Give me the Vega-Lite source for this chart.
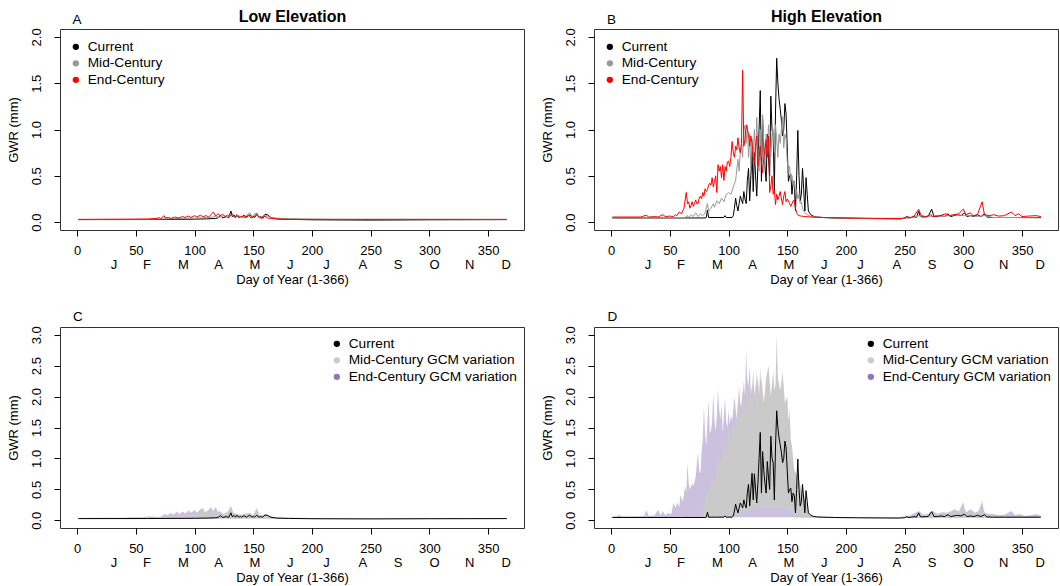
{
"$schema":"https://vega.github.io/schema/vega-lite/v6.json",
"padding":{"left":6,"top":7,"right":0,"bottom":0},
"config":{
 "font":"Liberation Sans",
 "view":{"stroke":"#333333","strokeWidth":1},
 "axis":{"labelFont":"Liberation Sans","titleFont":"Liberation Sans","labelFontSize":13,"titleFontSize":13,"titleFontWeight":"normal","labelColor":"#000000","titleColor":"#000000","tickColor":"#000000","grid":false},
 "legend":{"labelFont":"Liberation Sans","labelFontSize":13.7,"labelColor":"#000000","labelLimit":0}
},
"datasets":{
 "curLow":[{"d":1,"v":0.027},{"d":60,"v":0.028},{"d":100,"v":0.032},{"d":110,"v":0.035},{"d":118,"v":0.04},{"d":120,"v":0.045},{"d":122,"v":0.075},{"d":124,"v":0.045},{"d":127,"v":0.06},{"d":129,"v":0.045},{"d":131,"v":0.12},{"d":132,"v":0.06},{"d":134,"v":0.075},{"d":135,"v":0.05},{"d":136,"v":0.08},{"d":138,"v":0.05},{"d":139,"v":0.065},{"d":140,"v":0.05},{"d":142,"v":0.075},{"d":144,"v":0.05},{"d":145,"v":0.06},{"d":147,"v":0.08},{"d":149,"v":0.05},{"d":150,"v":0.065},{"d":151,"v":0.05},{"d":153,"v":0.08},{"d":155,"v":0.05},{"d":156,"v":0.06},{"d":158,"v":0.05},{"d":160,"v":0.085},{"d":162,"v":0.08},{"d":165,"v":0.05},{"d":170,"v":0.035},{"d":180,"v":0.03},{"d":200,"v":0.025},{"d":250,"v":0.022},{"d":300,"v":0.025},{"d":366,"v":0.027}],
 "midLow":[{"d":1,"v":0.028},{"d":60,"v":0.031},{"d":80,"v":0.037},{"d":100,"v":0.043},{"d":110,"v":0.05},{"d":116,"v":0.055},{"d":118,"v":0.065},{"d":121,"v":0.05},{"d":125,"v":0.07},{"d":128,"v":0.05},{"d":131,"v":0.08},{"d":134,"v":0.06},{"d":137,"v":0.075},{"d":140,"v":0.05},{"d":144,"v":0.07},{"d":147,"v":0.1},{"d":149,"v":0.06},{"d":152,"v":0.1},{"d":154,"v":0.06},{"d":156,"v":0.05},{"d":160,"v":0.075},{"d":163,"v":0.06},{"d":167,"v":0.045},{"d":175,"v":0.04},{"d":190,"v":0.035},{"d":220,"v":0.03},{"d":280,"v":0.03},{"d":366,"v":0.028}],
 "endLow":[{"d":1,"v":0.03},{"d":50,"v":0.032},{"d":60,"v":0.034},{"d":68,"v":0.04},{"d":70,"v":0.05},{"d":71,"v":0.035},{"d":74,"v":0.07},{"d":75,"v":0.045},{"d":78,"v":0.05},{"d":80,"v":0.04},{"d":83,"v":0.055},{"d":86,"v":0.045},{"d":90,"v":0.06},{"d":92,"v":0.05},{"d":95,"v":0.065},{"d":97,"v":0.05},{"d":100,"v":0.07},{"d":102,"v":0.055},{"d":105,"v":0.075},{"d":107,"v":0.06},{"d":110,"v":0.07},{"d":112,"v":0.055},{"d":114,"v":0.08},{"d":116,"v":0.11},{"d":118,"v":0.065},{"d":120,"v":0.09},{"d":122,"v":0.07},{"d":124,"v":0.085},{"d":126,"v":0.06},{"d":128,"v":0.075},{"d":130,"v":0.06},{"d":132,"v":0.09},{"d":134,"v":0.05},{"d":136,"v":0.07},{"d":138,"v":0.05},{"d":140,"v":0.065},{"d":143,"v":0.05},{"d":146,"v":0.075},{"d":148,"v":0.045},{"d":150,"v":0.05},{"d":153,"v":0.095},{"d":155,"v":0.05},{"d":158,"v":0.04},{"d":160,"v":0.065},{"d":162,"v":0.045},{"d":165,"v":0.04},{"d":170,"v":0.035},{"d":180,"v":0.03},{"d":366,"v":0.03}],
 "curHigh":[{"d":1,"v":0.045},{"d":30,"v":0.045},{"d":60,"v":0.045},{"d":80,"v":0.045},{"d":81,"v":0.05},{"d":82,"v":0.13},{"d":83,"v":0.05},{"d":90,"v":0.05},{"d":96,"v":0.05},{"d":97,"v":0.07},{"d":98,"v":0.05},{"d":103,"v":0.05},{"d":104,"v":0.07},{"d":105,"v":0.15},{"d":106,"v":0.26},{"d":107,"v":0.18},{"d":108,"v":0.12},{"d":109,"v":0.2},{"d":110,"v":0.28},{"d":111,"v":0.24},{"d":112,"v":0.2},{"d":113,"v":0.33},{"d":114,"v":0.25},{"d":115,"v":0.2},{"d":116,"v":0.45},{"d":117,"v":0.58},{"d":118,"v":0.23},{"d":119,"v":0.5},{"d":120,"v":0.76},{"d":121,"v":0.33},{"d":122,"v":0.75},{"d":123,"v":0.5},{"d":124,"v":0.28},{"d":125,"v":0.6},{"d":126,"v":1.0},{"d":127,"v":1.42},{"d":128,"v":0.44},{"d":129,"v":1.11},{"d":130,"v":0.8},{"d":131,"v":0.6},{"d":132,"v":0.44},{"d":133,"v":0.95},{"d":134,"v":0.7},{"d":135,"v":0.5},{"d":136,"v":1.36},{"d":137,"v":1.0},{"d":138,"v":0.93},{"d":139,"v":0.33},{"d":140,"v":1.2},{"d":141,"v":1.77},{"d":142,"v":1.5},{"d":143,"v":1.33},{"d":144,"v":1.22},{"d":145,"v":1.1},{"d":146,"v":0.93},{"d":147,"v":1.0},{"d":148,"v":1.28},{"d":149,"v":1.17},{"d":150,"v":0.8},{"d":151,"v":0.44},{"d":152,"v":0.5},{"d":153,"v":0.52},{"d":154,"v":0.3},{"d":155,"v":0.44},{"d":156,"v":0.4},{"d":157,"v":0.12},{"d":158,"v":0.5},{"d":159,"v":0.99},{"d":160,"v":0.5},{"d":161,"v":0.23},{"d":162,"v":0.3},{"d":163,"v":0.58},{"d":164,"v":0.35},{"d":165,"v":0.12},{"d":166,"v":0.48},{"d":167,"v":0.3},{"d":168,"v":0.12},{"d":169,"v":0.1},{"d":170,"v":0.08},{"d":172,"v":0.065},{"d":175,"v":0.055},{"d":180,"v":0.05},{"d":190,"v":0.045},{"d":210,"v":0.04},{"d":245,"v":0.035},{"d":250,"v":0.04},{"d":252,"v":0.06},{"d":253,"v":0.045},{"d":256,"v":0.05},{"d":258,"v":0.06},{"d":260,"v":0.05},{"d":262,"v":0.12},{"d":263,"v":0.07},{"d":264,"v":0.055},{"d":268,"v":0.06},{"d":270,"v":0.06},{"d":273,"v":0.14},{"d":275,"v":0.06},{"d":278,"v":0.06},{"d":281,"v":0.07},{"d":284,"v":0.06},{"d":287,"v":0.09},{"d":289,"v":0.06},{"d":292,"v":0.07},{"d":295,"v":0.08},{"d":298,"v":0.07},{"d":301,"v":0.1},{"d":303,"v":0.06},{"d":306,"v":0.07},{"d":309,"v":0.06},{"d":312,"v":0.08},{"d":315,"v":0.06},{"d":318,"v":0.09},{"d":320,"v":0.055},{"d":325,"v":0.05},{"d":335,"v":0.05},{"d":350,"v":0.05},{"d":366,"v":0.05}],
 "midHigh":[{"d":1,"v":0.045},{"d":30,"v":0.045},{"d":55,"v":0.05},{"d":63,"v":0.05},{"d":65,"v":0.07},{"d":66,"v":0.05},{"d":68,"v":0.08},{"d":70,"v":0.06},{"d":72,"v":0.1},{"d":74,"v":0.06},{"d":76,"v":0.09},{"d":78,"v":0.07},{"d":80,"v":0.1},{"d":82,"v":0.2},{"d":83,"v":0.12},{"d":85,"v":0.15},{"d":87,"v":0.2},{"d":88,"v":0.16},{"d":90,"v":0.23},{"d":92,"v":0.2},{"d":94,"v":0.26},{"d":96,"v":0.22},{"d":98,"v":0.3},{"d":100,"v":0.32},{"d":102,"v":0.3},{"d":104,"v":0.38},{"d":106,"v":0.45},{"d":108,"v":0.68},{"d":109,"v":0.55},{"d":110,"v":0.75},{"d":111,"v":0.84},{"d":112,"v":0.7},{"d":113,"v":1.05},{"d":114,"v":1.0},{"d":115,"v":0.85},{"d":116,"v":1.05},{"d":117,"v":0.7},{"d":118,"v":0.95},{"d":119,"v":0.6},{"d":120,"v":0.9},{"d":121,"v":0.75},{"d":122,"v":1.0},{"d":123,"v":0.65},{"d":124,"v":1.13},{"d":125,"v":0.8},{"d":126,"v":0.55},{"d":127,"v":1.0},{"d":128,"v":0.7},{"d":129,"v":1.16},{"d":130,"v":0.85},{"d":131,"v":0.6},{"d":132,"v":0.95},{"d":133,"v":0.75},{"d":134,"v":1.05},{"d":135,"v":0.8},{"d":136,"v":0.7},{"d":137,"v":0.95},{"d":138,"v":1.0},{"d":139,"v":0.75},{"d":140,"v":1.05},{"d":141,"v":0.9},{"d":142,"v":0.7},{"d":143,"v":0.95},{"d":144,"v":0.85},{"d":145,"v":1.0},{"d":146,"v":1.14},{"d":147,"v":0.8},{"d":148,"v":0.95},{"d":149,"v":0.9},{"d":150,"v":0.65},{"d":151,"v":0.55},{"d":152,"v":0.6},{"d":153,"v":0.45},{"d":154,"v":0.5},{"d":155,"v":0.4},{"d":156,"v":0.45},{"d":157,"v":0.3},{"d":158,"v":0.35},{"d":159,"v":0.25},{"d":160,"v":0.3},{"d":161,"v":0.2},{"d":162,"v":0.22},{"d":163,"v":0.15},{"d":164,"v":0.12},{"d":165,"v":0.1},{"d":167,"v":0.08},{"d":170,"v":0.06},{"d":175,"v":0.055},{"d":190,"v":0.045},{"d":220,"v":0.04},{"d":250,"v":0.04},{"d":258,"v":0.05},{"d":262,"v":0.07},{"d":266,"v":0.05},{"d":272,"v":0.06},{"d":276,"v":0.07},{"d":282,"v":0.06},{"d":288,"v":0.07},{"d":294,"v":0.08},{"d":300,"v":0.07},{"d":306,"v":0.07},{"d":312,"v":0.06},{"d":318,"v":0.07},{"d":325,"v":0.05},{"d":340,"v":0.05},{"d":366,"v":0.045}],
 "endHigh":[{"d":1,"v":0.055},{"d":25,"v":0.055},{"d":30,"v":0.075},{"d":32,"v":0.055},{"d":37,"v":0.06},{"d":40,"v":0.055},{"d":44,"v":0.08},{"d":46,"v":0.06},{"d":50,"v":0.065},{"d":53,"v":0.06},{"d":55,"v":0.08},{"d":56,"v":0.07},{"d":58,"v":0.11},{"d":60,"v":0.09},{"d":62,"v":0.15},{"d":64,"v":0.32},{"d":65,"v":0.2},{"d":66,"v":0.22},{"d":67,"v":0.15},{"d":68,"v":0.18},{"d":69,"v":0.22},{"d":70,"v":0.17},{"d":71,"v":0.2},{"d":72,"v":0.24},{"d":73,"v":0.2},{"d":74,"v":0.2},{"d":75,"v":0.26},{"d":76,"v":0.28},{"d":77,"v":0.25},{"d":78,"v":0.32},{"d":79,"v":0.28},{"d":80,"v":0.36},{"d":81,"v":0.33},{"d":82,"v":0.35},{"d":83,"v":0.4},{"d":84,"v":0.42},{"d":85,"v":0.4},{"d":86,"v":0.48},{"d":87,"v":0.38},{"d":88,"v":0.44},{"d":89,"v":0.5},{"d":90,"v":0.32},{"d":91,"v":0.62},{"d":92,"v":0.55},{"d":93,"v":0.6},{"d":94,"v":0.48},{"d":95,"v":0.62},{"d":96,"v":0.45},{"d":97,"v":0.6},{"d":98,"v":0.55},{"d":99,"v":0.65},{"d":100,"v":0.66},{"d":101,"v":0.6},{"d":102,"v":0.7},{"d":103,"v":0.87},{"d":104,"v":0.75},{"d":105,"v":0.7},{"d":106,"v":0.82},{"d":107,"v":0.78},{"d":108,"v":0.91},{"d":109,"v":0.8},{"d":110,"v":0.75},{"d":111,"v":0.85},{"d":112,"v":1.64},{"d":113,"v":0.82},{"d":114,"v":0.9},{"d":115,"v":1.05},{"d":116,"v":1.0},{"d":117,"v":0.95},{"d":118,"v":0.82},{"d":119,"v":0.93},{"d":120,"v":0.85},{"d":121,"v":0.7},{"d":122,"v":0.64},{"d":123,"v":0.82},{"d":124,"v":0.93},{"d":125,"v":0.6},{"d":126,"v":0.7},{"d":127,"v":0.82},{"d":128,"v":0.65},{"d":129,"v":0.53},{"d":130,"v":0.7},{"d":131,"v":0.78},{"d":132,"v":0.89},{"d":133,"v":0.7},{"d":134,"v":0.93},{"d":135,"v":0.32},{"d":136,"v":0.39},{"d":137,"v":0.5},{"d":138,"v":0.3},{"d":139,"v":0.35},{"d":140,"v":0.19},{"d":141,"v":0.3},{"d":142,"v":0.24},{"d":143,"v":0.28},{"d":144,"v":0.33},{"d":145,"v":0.25},{"d":146,"v":0.19},{"d":147,"v":0.28},{"d":148,"v":0.33},{"d":149,"v":0.22},{"d":150,"v":0.25},{"d":151,"v":0.23},{"d":152,"v":0.2},{"d":153,"v":0.17},{"d":154,"v":0.2},{"d":155,"v":0.23},{"d":156,"v":0.24},{"d":157,"v":0.15},{"d":158,"v":0.1},{"d":159,"v":0.08},{"d":160,"v":0.07},{"d":162,"v":0.065},{"d":165,"v":0.06},{"d":170,"v":0.055},{"d":180,"v":0.05},{"d":200,"v":0.045},{"d":230,"v":0.04},{"d":248,"v":0.04},{"d":252,"v":0.06},{"d":255,"v":0.05},{"d":258,"v":0.065},{"d":262,"v":0.14},{"d":264,"v":0.07},{"d":268,"v":0.06},{"d":272,"v":0.08},{"d":274,"v":0.06},{"d":280,"v":0.07},{"d":285,"v":0.09},{"d":288,"v":0.07},{"d":292,"v":0.08},{"d":296,"v":0.09},{"d":300,"v":0.14},{"d":302,"v":0.08},{"d":306,"v":0.1},{"d":308,"v":0.07},{"d":312,"v":0.08},{"d":316,"v":0.22},{"d":318,"v":0.08},{"d":322,"v":0.07},{"d":326,"v":0.08},{"d":330,"v":0.065},{"d":335,"v":0.07},{"d":341,"v":0.11},{"d":344,"v":0.07},{"d":347,"v":0.09},{"d":350,"v":0.06},{"d":355,"v":0.065},{"d":362,"v":0.07},{"d":366,"v":0.06}],
 "endLowBand":[{"d":1,"lo":0.026,"hi":0.035},{"d":15,"lo":0.026,"hi":0.04},{"d":40,"lo":0.026,"hi":0.04},{"d":45,"lo":0.026,"hi":0.05},{"d":55,"lo":0.027,"hi":0.05},{"d":60,"lo":0.027,"hi":0.06},{"d":65,"lo":0.027,"hi":0.06},{"d":70,"lo":0.028,"hi":0.05},{"d":75,"lo":0.028,"hi":0.1},{"d":77,"lo":0.028,"hi":0.08},{"d":80,"lo":0.028,"hi":0.12},{"d":82,"lo":0.028,"hi":0.09},{"d":85,"lo":0.028,"hi":0.14},{"d":87,"lo":0.028,"hi":0.1},{"d":90,"lo":0.028,"hi":0.14},{"d":92,"lo":0.028,"hi":0.11},{"d":95,"lo":0.028,"hi":0.16},{"d":97,"lo":0.028,"hi":0.12},{"d":100,"lo":0.028,"hi":0.17},{"d":102,"lo":0.028,"hi":0.12},{"d":105,"lo":0.028,"hi":0.18},{"d":107,"lo":0.028,"hi":0.2},{"d":109,"lo":0.028,"hi":0.12},{"d":112,"lo":0.028,"hi":0.17},{"d":114,"lo":0.028,"hi":0.21},{"d":116,"lo":0.028,"hi":0.14},{"d":118,"lo":0.028,"hi":0.22},{"d":120,"lo":0.028,"hi":0.12},{"d":123,"lo":0.028,"hi":0.1},{"d":126,"lo":0.028,"hi":0.08},{"d":130,"lo":0.028,"hi":0.07},{"d":135,"lo":0.028,"hi":0.06},{"d":140,"lo":0.028,"hi":0.06},{"d":150,"lo":0.028,"hi":0.05},{"d":160,"lo":0.028,"hi":0.05},{"d":170,"lo":0.026,"hi":0.04},{"d":200,"lo":0.024,"hi":0.035},{"d":366,"lo":0.026,"hi":0.035}],
 "midLowBand":[{"d":1,"lo":0.026,"hi":0.035},{"d":60,"lo":0.027,"hi":0.04},{"d":80,"lo":0.028,"hi":0.05},{"d":95,"lo":0.028,"hi":0.08},{"d":100,"lo":0.028,"hi":0.1},{"d":105,"lo":0.028,"hi":0.12},{"d":110,"lo":0.028,"hi":0.14},{"d":113,"lo":0.028,"hi":0.1},{"d":116,"lo":0.028,"hi":0.16},{"d":118,"lo":0.028,"hi":0.12},{"d":121,"lo":0.028,"hi":0.15},{"d":125,"lo":0.028,"hi":0.1},{"d":128,"lo":0.028,"hi":0.13},{"d":131,"lo":0.028,"hi":0.24},{"d":133,"lo":0.028,"hi":0.12},{"d":136,"lo":0.028,"hi":0.1},{"d":140,"lo":0.028,"hi":0.09},{"d":144,"lo":0.028,"hi":0.11},{"d":147,"lo":0.028,"hi":0.12},{"d":150,"lo":0.028,"hi":0.08},{"d":153,"lo":0.028,"hi":0.2},{"d":155,"lo":0.028,"hi":0.09},{"d":158,"lo":0.028,"hi":0.08},{"d":161,"lo":0.028,"hi":0.1},{"d":164,"lo":0.028,"hi":0.07},{"d":168,"lo":0.027,"hi":0.05},{"d":175,"lo":0.026,"hi":0.04},{"d":200,"lo":0.024,"hi":0.035},{"d":366,"lo":0.026,"hi":0.035}],
 "endHighBand":[{"d":1,"lo":0.04,"hi":0.06},{"d":5,"lo":0.04,"hi":0.07},{"d":7,"lo":0.04,"hi":0.09},{"d":9,"lo":0.04,"hi":0.065},{"d":20,"lo":0.04,"hi":0.065},{"d":28,"lo":0.04,"hi":0.07},{"d":30,"lo":0.04,"hi":0.16},{"d":32,"lo":0.04,"hi":0.07},{"d":37,"lo":0.04,"hi":0.08},{"d":40,"lo":0.04,"hi":0.17},{"d":42,"lo":0.04,"hi":0.08},{"d":44,"lo":0.04,"hi":0.15},{"d":46,"lo":0.04,"hi":0.08},{"d":49,"lo":0.04,"hi":0.12},{"d":51,"lo":0.04,"hi":0.09},{"d":53,"lo":0.045,"hi":0.28},{"d":55,"lo":0.045,"hi":0.2},{"d":56,"lo":0.045,"hi":0.29},{"d":58,"lo":0.045,"hi":0.22},{"d":59,"lo":0.045,"hi":0.41},{"d":61,"lo":0.05,"hi":0.3},{"d":63,"lo":0.05,"hi":0.55},{"d":64,"lo":0.05,"hi":0.45},{"d":65,"lo":0.05,"hi":0.93},{"d":66,"lo":0.05,"hi":0.6},{"d":67,"lo":0.05,"hi":0.5},{"d":69,"lo":0.05,"hi":0.6},{"d":70,"lo":0.05,"hi":0.55},{"d":72,"lo":0.05,"hi":0.7},{"d":73,"lo":0.05,"hi":0.93},{"d":74,"lo":0.05,"hi":1.09},{"d":75,"lo":0.05,"hi":0.8},{"d":76,"lo":0.05,"hi":0.76},{"d":77,"lo":0.05,"hi":1.11},{"d":78,"lo":0.05,"hi":1.3},{"d":79,"lo":0.05,"hi":1.84},{"d":80,"lo":0.05,"hi":1.4},{"d":81,"lo":0.05,"hi":1.2},{"d":82,"lo":0.05,"hi":1.6},{"d":83,"lo":0.05,"hi":1.95},{"d":84,"lo":0.05,"hi":1.4},{"d":85,"lo":0.05,"hi":1.45},{"d":86,"lo":0.05,"hi":1.6},{"d":87,"lo":0.05,"hi":2.06},{"d":88,"lo":0.05,"hi":1.6},{"d":89,"lo":0.05,"hi":1.44},{"d":90,"lo":0.05,"hi":1.7},{"d":91,"lo":0.05,"hi":2.12},{"d":92,"lo":0.05,"hi":1.8},{"d":93,"lo":0.05,"hi":1.63},{"d":94,"lo":0.05,"hi":1.87},{"d":95,"lo":0.05,"hi":1.41},{"d":96,"lo":0.05,"hi":1.7},{"d":97,"lo":0.05,"hi":1.98},{"d":98,"lo":0.05,"hi":1.6},{"d":99,"lo":0.05,"hi":1.5},{"d":100,"lo":0.05,"hi":1.79},{"d":101,"lo":0.05,"hi":1.55},{"d":102,"lo":0.05,"hi":1.71},{"d":103,"lo":0.05,"hi":1.6},{"d":104,"lo":0.05,"hi":1.78},{"d":105,"lo":0.05,"hi":2.0},{"d":106,"lo":0.05,"hi":1.8},{"d":107,"lo":0.05,"hi":1.63},{"d":108,"lo":0.05,"hi":1.9},{"d":109,"lo":0.05,"hi":2.16},{"d":110,"lo":0.05,"hi":1.9},{"d":111,"lo":0.05,"hi":1.8},{"d":112,"lo":0.05,"hi":2.0},{"d":113,"lo":0.05,"hi":2.27},{"d":114,"lo":0.05,"hi":2.0},{"d":115,"lo":0.05,"hi":2.78},{"d":116,"lo":0.05,"hi":2.1},{"d":117,"lo":0.05,"hi":2.2},{"d":118,"lo":0.05,"hi":2.49},{"d":119,"lo":0.05,"hi":2.0},{"d":120,"lo":0.05,"hi":2.1},{"d":121,"lo":0.05,"hi":2.43},{"d":122,"lo":0.05,"hi":2.0},{"d":123,"lo":0.05,"hi":2.2},{"d":124,"lo":0.05,"hi":1.9},{"d":125,"lo":0.05,"hi":2.3},{"d":126,"lo":0.05,"hi":2.0},{"d":127,"lo":0.05,"hi":2.49},{"d":128,"lo":0.05,"hi":2.0},{"d":129,"lo":0.05,"hi":1.8},{"d":130,"lo":0.05,"hi":1.7},{"d":132,"lo":0.05,"hi":1.6},{"d":134,"lo":0.05,"hi":1.5},{"d":136,"lo":0.05,"hi":1.4},{"d":138,"lo":0.05,"hi":1.2},{"d":140,"lo":0.05,"hi":1.1},{"d":142,"lo":0.05,"hi":0.9},{"d":145,"lo":0.05,"hi":0.8},{"d":150,"lo":0.05,"hi":0.6},{"d":155,"lo":0.05,"hi":0.4},{"d":160,"lo":0.045,"hi":0.2},{"d":165,"lo":0.04,"hi":0.12},{"d":170,"lo":0.04,"hi":0.07},{"d":175,"lo":0.04,"hi":0.06},{"d":200,"lo":0.035,"hi":0.05},{"d":240,"lo":0.035,"hi":0.05},{"d":250,"lo":0.04,"hi":0.06},{"d":255,"lo":0.04,"hi":0.08},{"d":262,"lo":0.04,"hi":0.15},{"d":265,"lo":0.04,"hi":0.09},{"d":270,"lo":0.04,"hi":0.1},{"d":274,"lo":0.04,"hi":0.15},{"d":278,"lo":0.04,"hi":0.1},{"d":282,"lo":0.04,"hi":0.13},{"d":286,"lo":0.04,"hi":0.12},{"d":290,"lo":0.04,"hi":0.15},{"d":293,"lo":0.04,"hi":0.18},{"d":296,"lo":0.04,"hi":0.14},{"d":300,"lo":0.04,"hi":0.29},{"d":302,"lo":0.04,"hi":0.12},{"d":306,"lo":0.04,"hi":0.18},{"d":310,"lo":0.04,"hi":0.12},{"d":313,"lo":0.04,"hi":0.15},{"d":316,"lo":0.04,"hi":0.31},{"d":318,"lo":0.04,"hi":0.12},{"d":322,"lo":0.04,"hi":0.1},{"d":326,"lo":0.04,"hi":0.1},{"d":330,"lo":0.04,"hi":0.08},{"d":335,"lo":0.04,"hi":0.09},{"d":341,"lo":0.04,"hi":0.15},{"d":344,"lo":0.04,"hi":0.08},{"d":348,"lo":0.04,"hi":0.1},{"d":352,"lo":0.04,"hi":0.07},{"d":358,"lo":0.04,"hi":0.08},{"d":362,"lo":0.04,"hi":0.1},{"d":366,"lo":0.04,"hi":0.07}],
 "midHighBand":[{"d":1,"lo":0.04,"hi":0.05},{"d":60,"lo":0.04,"hi":0.05},{"d":75,"lo":0.04,"hi":0.06},{"d":78,"lo":0.045,"hi":0.15},{"d":80,"lo":0.045,"hi":0.3},{"d":82,"lo":0.05,"hi":0.5},{"d":84,"lo":0.05,"hi":0.45},{"d":86,"lo":0.05,"hi":0.7},{"d":88,"lo":0.05,"hi":0.6},{"d":90,"lo":0.05,"hi":0.9},{"d":92,"lo":0.06,"hi":1.1},{"d":94,"lo":0.06,"hi":0.9},{"d":96,"lo":0.06,"hi":1.3},{"d":98,"lo":0.07,"hi":1.1},{"d":100,"lo":0.07,"hi":1.5},{"d":102,"lo":0.08,"hi":1.3},{"d":104,"lo":0.08,"hi":1.6},{"d":106,"lo":0.1,"hi":1.4},{"d":108,"lo":0.1,"hi":1.9},{"d":110,"lo":0.12,"hi":1.7},{"d":112,"lo":0.13,"hi":2.1},{"d":114,"lo":0.15,"hi":1.8},{"d":116,"lo":0.15,"hi":2.3},{"d":118,"lo":0.17,"hi":1.9},{"d":120,"lo":0.18,"hi":2.2},{"d":122,"lo":0.18,"hi":1.8},{"d":124,"lo":0.2,"hi":2.4},{"d":126,"lo":0.2,"hi":2.0},{"d":128,"lo":0.2,"hi":2.3},{"d":130,"lo":0.2,"hi":1.9},{"d":132,"lo":0.2,"hi":2.3},{"d":134,"lo":0.2,"hi":2.5},{"d":136,"lo":0.2,"hi":2.0},{"d":138,"lo":0.2,"hi":2.4},{"d":139,"lo":0.2,"hi":2.1},{"d":140,"lo":0.2,"hi":2.2},{"d":141,"lo":0.2,"hi":3.0},{"d":142,"lo":0.2,"hi":2.3},{"d":144,"lo":0.2,"hi":2.1},{"d":146,"lo":0.2,"hi":2.4},{"d":148,"lo":0.18,"hi":1.9},{"d":150,"lo":0.17,"hi":2.0},{"d":151,"lo":0.15,"hi":1.6},{"d":152,"lo":0.15,"hi":1.8},{"d":153,"lo":0.14,"hi":1.3},{"d":154,"lo":0.13,"hi":1.2},{"d":155,"lo":0.12,"hi":1.0},{"d":156,"lo":0.1,"hi":0.8},{"d":158,"lo":0.09,"hi":0.75},{"d":160,"lo":0.08,"hi":0.65},{"d":162,"lo":0.07,"hi":0.5},{"d":164,"lo":0.06,"hi":0.4},{"d":166,"lo":0.05,"hi":0.3},{"d":168,"lo":0.05,"hi":0.15},{"d":170,"lo":0.045,"hi":0.08},{"d":173,"lo":0.04,"hi":0.05},{"d":200,"lo":0.035,"hi":0.045},{"d":250,"lo":0.035,"hi":0.05},{"d":260,"lo":0.04,"hi":0.08},{"d":263,"lo":0.04,"hi":0.14},{"d":266,"lo":0.04,"hi":0.08},{"d":272,"lo":0.04,"hi":0.1},{"d":275,"lo":0.04,"hi":0.13},{"d":280,"lo":0.04,"hi":0.09},{"d":288,"lo":0.04,"hi":0.12},{"d":292,"lo":0.04,"hi":0.15},{"d":296,"lo":0.04,"hi":0.12},{"d":300,"lo":0.04,"hi":0.2},{"d":303,"lo":0.04,"hi":0.12},{"d":308,"lo":0.04,"hi":0.13},{"d":312,"lo":0.04,"hi":0.11},{"d":316,"lo":0.04,"hi":0.18},{"d":320,"lo":0.04,"hi":0.09},{"d":330,"lo":0.04,"hi":0.06},{"d":366,"lo":0.04,"hi":0.05}]
},
"columns":2,
"spacing":{"row":97,"column":70},
"bounds":"flush",
"resolve":{"scale":{"color":"independent"},"legend":{"color":"independent"}},
"concat":[
 {"width":464,"height":201,
  "layer":[
   {"data":{"name":"curLow"},"mark":{"type":"line","strokeWidth":1},
    "encoding":{
     "x":{"field":"d","type":"quantitative","scale":{"domain":[-14.64,380.64],"nice":false,"zero":false},
      "axis":{"orient":"bottom","values":[0,50,100,150,200,250,300,350,31,59,90,120,151,181,212,243,273,304,334,365],"labelExpr":"datum.value % 50 === 0 ? datum.label : ['', ['J','F','M','A','M','J','J','A','S','O','N','D'][indexof([31,59,90,120,151,181,212,243,273,304,334,365], datum.value)]]","labelLineHeight":14,"tickOpacity":{"condition":{"test":"datum.value % 50 === 0","value":1},"value":0},"labelPadding":8,"labelOverlap":false,"labelFlush":false,"labelBound":false,"tickSize":6,"domain":false,"title":"Day of Year (1-366)","titlePadding":2}},
     "y":{"field":"v","type":"quantitative","scale":{"domain":[-0.085,2.085],"nice":false,"zero":false},
      "axis":{"values":[0,0.5,1,1.5,2],"format":".1f","labelAngle":270,"labelAlign":"center","labelBaseline":"bottom","labelPadding":10.5,"labelOverlap":false,"labelFlush":false,"tickSize":6,"domain":false,"title":"GWR (mm)","titlePadding":10}},
     "color":{"datum":"Current","type":"nominal","scale":{"domain":["Current","Mid-Century","End-Century"],"range":["#000000","#999999","#ff0000"]},
      "legend":{"title":null,"orient":"none","legendX":9,"legendY":11,"symbolType":"circle","symbolSize":40,"symbolStrokeWidth":0,"symbolOpacity":1,"labelOffset":5,"rowPadding":1.5,"padding":0,"encode":{"symbols":{"update":{"fill":{"signal":"datum.value === 'Current' ? '#000000' : datum.value === 'Mid-Century' ? '#999999' : '#ff0000'"},"strokeWidth":{"value":0},"opacity":{"value":1}}}}}}
    }},
   {"data":{"name":"midLow"},"mark":{"type":"line","strokeWidth":1},
    "encoding":{
     "x":{"field":"d","type":"quantitative","scale":{"domain":[-14.64,380.64],"nice":false,"zero":false},
      "axis":{"orient":"top","labels":false,"ticks":false,"domain":false,"title":"Low Elevation","titleFontWeight":"bold","titleFontSize":16,"titleX":232,"titleY":-8,"titleAlign":"center","titleBaseline":"alphabetic"}},
     "y":{"field":"v","type":"quantitative","scale":{"domain":[-0.085,2.085],"nice":false,"zero":false},
      "axis":{"values":[0,0.5,1,1.5,2],"format":".1f","labelAngle":270,"labelAlign":"center","labelBaseline":"bottom","labelPadding":10.5,"labelOverlap":false,"labelFlush":false,"tickSize":6,"domain":false,"title":"GWR (mm)","titlePadding":10}},
     "color":{"datum":"Mid-Century","type":"nominal"}
    }},
   {"data":{"name":"endLow"},"mark":{"type":"line","strokeWidth":1},
    "encoding":{
     "x":{"field":"d","type":"quantitative","scale":{"domain":[-14.64,380.64],"nice":false,"zero":false},
      "axis":{"orient":"top","labels":false,"ticks":false,"domain":false,"title":"A","titleFontSize":13.5,"titleX":12,"titleY":-6,"titleAlign":"left","titleBaseline":"alphabetic"}},
     "y":{"field":"v","type":"quantitative","scale":{"domain":[-0.085,2.085],"nice":false,"zero":false},
      "axis":{"values":[0,0.5,1,1.5,2],"format":".1f","labelAngle":270,"labelAlign":"center","labelBaseline":"bottom","labelPadding":10.5,"labelOverlap":false,"labelFlush":false,"tickSize":6,"domain":false,"title":"GWR (mm)","titlePadding":10}},
     "color":{"datum":"End-Century","type":"nominal"}
    }}
  ],
  "resolve":{"axis":{"x":"independent"}}
 },
 {"width":464,"height":201,
  "layer":[
   {"data":{"name":"curHigh"},"mark":{"type":"line","strokeWidth":1},
    "encoding":{
     "x":{"field":"d","type":"quantitative","scale":{"domain":[-14.64,380.64],"nice":false,"zero":false},
      "axis":{"orient":"bottom","values":[0,50,100,150,200,250,300,350,31,59,90,120,151,181,212,243,273,304,334,365],"labelExpr":"datum.value % 50 === 0 ? datum.label : ['', ['J','F','M','A','M','J','J','A','S','O','N','D'][indexof([31,59,90,120,151,181,212,243,273,304,334,365], datum.value)]]","labelLineHeight":14,"tickOpacity":{"condition":{"test":"datum.value % 50 === 0","value":1},"value":0},"labelPadding":8,"labelOverlap":false,"labelFlush":false,"labelBound":false,"tickSize":6,"domain":false,"title":"Day of Year (1-366)","titlePadding":2}},
     "y":{"field":"v","type":"quantitative","scale":{"domain":[-0.085,2.085],"nice":false,"zero":false},
      "axis":{"values":[0,0.5,1,1.5,2],"format":".1f","labelAngle":270,"labelAlign":"center","labelBaseline":"bottom","labelPadding":10.5,"labelOverlap":false,"labelFlush":false,"tickSize":6,"domain":false,"title":"GWR (mm)","titlePadding":10}},
     "color":{"datum":"Current","type":"nominal","scale":{"domain":["Current","Mid-Century","End-Century"],"range":["#000000","#999999","#ff0000"]},
      "legend":{"title":null,"orient":"none","legendX":9,"legendY":11,"symbolType":"circle","symbolSize":40,"symbolStrokeWidth":0,"symbolOpacity":1,"labelOffset":5,"rowPadding":1.5,"padding":0,"encode":{"symbols":{"update":{"fill":{"signal":"datum.value === 'Current' ? '#000000' : datum.value === 'Mid-Century' ? '#999999' : '#ff0000'"},"strokeWidth":{"value":0},"opacity":{"value":1}}}}}}
    }},
   {"data":{"name":"midHigh"},"mark":{"type":"line","strokeWidth":1},
    "encoding":{
     "x":{"field":"d","type":"quantitative","scale":{"domain":[-14.64,380.64],"nice":false,"zero":false},
      "axis":{"orient":"top","labels":false,"ticks":false,"domain":false,"title":"High Elevation","titleFontWeight":"bold","titleFontSize":16,"titleX":232,"titleY":-8,"titleAlign":"center","titleBaseline":"alphabetic"}},
     "y":{"field":"v","type":"quantitative","scale":{"domain":[-0.085,2.085],"nice":false,"zero":false},
      "axis":{"values":[0,0.5,1,1.5,2],"format":".1f","labelAngle":270,"labelAlign":"center","labelBaseline":"bottom","labelPadding":10.5,"labelOverlap":false,"labelFlush":false,"tickSize":6,"domain":false,"title":"GWR (mm)","titlePadding":10}},
     "color":{"datum":"Mid-Century","type":"nominal"}
    }},
   {"data":{"name":"endHigh"},"mark":{"type":"line","strokeWidth":1},
    "encoding":{
     "x":{"field":"d","type":"quantitative","scale":{"domain":[-14.64,380.64],"nice":false,"zero":false},
      "axis":{"orient":"top","labels":false,"ticks":false,"domain":false,"title":"B","titleFontSize":13.5,"titleX":12.5,"titleY":-6,"titleAlign":"left","titleBaseline":"alphabetic"}},
     "y":{"field":"v","type":"quantitative","scale":{"domain":[-0.085,2.085],"nice":false,"zero":false},
      "axis":{"values":[0,0.5,1,1.5,2],"format":".1f","labelAngle":270,"labelAlign":"center","labelBaseline":"bottom","labelPadding":10.5,"labelOverlap":false,"labelFlush":false,"tickSize":6,"domain":false,"title":"GWR (mm)","titlePadding":10}},
     "color":{"datum":"End-Century","type":"nominal"}
    }}
  ],
  "resolve":{"axis":{"x":"independent"}}
 },
 {"width":464,"height":201,
  "layer":[
   {"data":{"name":"endLowBand"},"mark":{"type":"area","opacity":0.45},
    "encoding":{
     "x":{"field":"d","type":"quantitative","scale":{"domain":[-14.64,380.64],"nice":false,"zero":false},
      "axis":{"orient":"bottom","values":[0,50,100,150,200,250,300,350,31,59,90,120,151,181,212,243,273,304,334,365],"labelExpr":"datum.value % 50 === 0 ? datum.label : ['', ['J','F','M','A','M','J','J','A','S','O','N','D'][indexof([31,59,90,120,151,181,212,243,273,304,334,365], datum.value)]]","labelLineHeight":14,"tickOpacity":{"condition":{"test":"datum.value % 50 === 0","value":1},"value":0},"labelPadding":8,"labelOverlap":false,"labelFlush":false,"labelBound":false,"tickSize":6,"domain":false,"title":"Day of Year (1-366)","titlePadding":2}},
     "y":{"field":"lo","type":"quantitative","scale":{"domain":[-0.125,3.125],"nice":false,"zero":false},
      "axis":{"values":[0,0.5,1,1.5,2,2.5,3],"format":".1f","labelAngle":270,"labelAlign":"center","labelBaseline":"bottom","labelPadding":10.5,"labelOverlap":false,"labelFlush":false,"tickSize":6,"domain":false,"title":"GWR (mm)","titlePadding":10}},
     "y2":{"field":"hi"},
     "color":{"datum":"End-Century GCM variation","type":"nominal","scale":{"domain":["Current","Mid-Century GCM variation","End-Century GCM variation"],"range":["#000000","#cacaca","#8e74b8"]},
      "legend":{"title":null,"orient":"none","legendX":270,"legendY":10,"symbolType":"circle","symbolSize":40,"symbolStrokeWidth":0,"symbolOpacity":1,"labelOffset":5,"rowPadding":1.5,"padding":0,"encode":{"symbols":{"update":{"opacity":{"value":1},"strokeWidth":{"value":0}}}}}}
    }},
   {"data":{"name":"midLowBand"},"mark":{"type":"area","opacity":1},
    "encoding":{
     "x":{"field":"d","type":"quantitative","scale":{"domain":[-14.64,380.64],"nice":false,"zero":false},"axis":null},
     "y":{"field":"lo","type":"quantitative","scale":{"domain":[-0.125,3.125],"nice":false,"zero":false},
      "axis":{"values":[0,0.5,1,1.5,2,2.5,3],"format":".1f","labelAngle":270,"labelAlign":"center","labelBaseline":"bottom","labelPadding":10.5,"labelOverlap":false,"labelFlush":false,"tickSize":6,"domain":false,"title":"GWR (mm)","titlePadding":10}},
     "y2":{"field":"hi"},
     "color":{"datum":"Mid-Century GCM variation","type":"nominal"}
    }},
   {"data":{"name":"curLow"},"mark":{"type":"line","strokeWidth":1},
    "encoding":{
     "x":{"field":"d","type":"quantitative","scale":{"domain":[-14.64,380.64],"nice":false,"zero":false},
      "axis":{"orient":"top","labels":false,"ticks":false,"domain":false,"title":"C","titleFontSize":13.5,"titleX":12.5,"titleY":-7,"titleAlign":"left","titleBaseline":"alphabetic"}},
     "y":{"field":"v","type":"quantitative","scale":{"domain":[-0.125,3.125],"nice":false,"zero":false},
      "axis":{"values":[0,0.5,1,1.5,2,2.5,3],"format":".1f","labelAngle":270,"labelAlign":"center","labelBaseline":"bottom","labelPadding":10.5,"labelOverlap":false,"labelFlush":false,"tickSize":6,"domain":false,"title":"GWR (mm)","titlePadding":10}},
     "color":{"datum":"Current","type":"nominal"}
    }}
  ],
  "resolve":{"axis":{"x":"independent"}}
 },
 {"width":464,"height":201,
  "layer":[
   {"data":{"name":"endHighBand"},"mark":{"type":"area","opacity":0.45},
    "encoding":{
     "x":{"field":"d","type":"quantitative","scale":{"domain":[-14.64,380.64],"nice":false,"zero":false},
      "axis":{"orient":"bottom","values":[0,50,100,150,200,250,300,350,31,59,90,120,151,181,212,243,273,304,334,365],"labelExpr":"datum.value % 50 === 0 ? datum.label : ['', ['J','F','M','A','M','J','J','A','S','O','N','D'][indexof([31,59,90,120,151,181,212,243,273,304,334,365], datum.value)]]","labelLineHeight":14,"tickOpacity":{"condition":{"test":"datum.value % 50 === 0","value":1},"value":0},"labelPadding":8,"labelOverlap":false,"labelFlush":false,"labelBound":false,"tickSize":6,"domain":false,"title":"Day of Year (1-366)","titlePadding":2}},
     "y":{"field":"lo","type":"quantitative","scale":{"domain":[-0.125,3.125],"nice":false,"zero":false},
      "axis":{"values":[0,0.5,1,1.5,2,2.5,3],"format":".1f","labelAngle":270,"labelAlign":"center","labelBaseline":"bottom","labelPadding":10.5,"labelOverlap":false,"labelFlush":false,"tickSize":6,"domain":false,"title":"GWR (mm)","titlePadding":10}},
     "y2":{"field":"hi"},
     "color":{"datum":"End-Century GCM variation","type":"nominal","scale":{"domain":["Current","Mid-Century GCM variation","End-Century GCM variation"],"range":["#000000","#cacaca","#8e74b8"]},
      "legend":{"title":null,"orient":"none","legendX":270,"legendY":10,"symbolType":"circle","symbolSize":40,"symbolStrokeWidth":0,"symbolOpacity":1,"labelOffset":5,"rowPadding":1.5,"padding":0,"encode":{"symbols":{"update":{"opacity":{"value":1},"strokeWidth":{"value":0}}}}}}
    }},
   {"data":{"name":"midHighBand"},"mark":{"type":"area","opacity":1},
    "encoding":{
     "x":{"field":"d","type":"quantitative","scale":{"domain":[-14.64,380.64],"nice":false,"zero":false},"axis":null},
     "y":{"field":"lo","type":"quantitative","scale":{"domain":[-0.125,3.125],"nice":false,"zero":false},
      "axis":{"values":[0,0.5,1,1.5,2,2.5,3],"format":".1f","labelAngle":270,"labelAlign":"center","labelBaseline":"bottom","labelPadding":10.5,"labelOverlap":false,"labelFlush":false,"tickSize":6,"domain":false,"title":"GWR (mm)","titlePadding":10}},
     "y2":{"field":"hi"},
     "color":{"datum":"Mid-Century GCM variation","type":"nominal"}
    }},
   {"data":{"name":"curHigh"},"mark":{"type":"line","strokeWidth":1},
    "encoding":{
     "x":{"field":"d","type":"quantitative","scale":{"domain":[-14.64,380.64],"nice":false,"zero":false},
      "axis":{"orient":"top","labels":false,"ticks":false,"domain":false,"title":"D","titleFontSize":13.5,"titleX":13,"titleY":-7,"titleAlign":"left","titleBaseline":"alphabetic"}},
     "y":{"field":"v","type":"quantitative","scale":{"domain":[-0.125,3.125],"nice":false,"zero":false},
      "axis":{"values":[0,0.5,1,1.5,2,2.5,3],"format":".1f","labelAngle":270,"labelAlign":"center","labelBaseline":"bottom","labelPadding":10.5,"labelOverlap":false,"labelFlush":false,"tickSize":6,"domain":false,"title":"GWR (mm)","titlePadding":10}},
     "color":{"datum":"Current","type":"nominal"}
    }}
  ],
  "resolve":{"axis":{"x":"independent"}}
 }
]
}
